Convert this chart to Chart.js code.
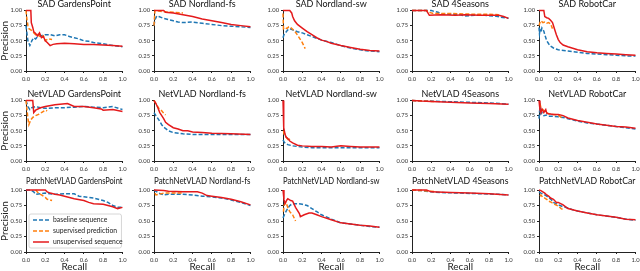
<!DOCTYPE html>
<html><head><meta charset="utf-8">
<script src="https://cdn.jsdelivr.net/npm/chart.js@4.4.1/dist/chart.umd.min.js"></script>
<style>
html,body{margin:0;padding:0;background:#fff;width:640px;height:271px;overflow:hidden;position:relative}
canvas{position:absolute}
</style></head><body>
<script>
// ---------- labels ----------
const methods = ['SAD', 'NetVLAD', 'PatchNetVLAD'];
const places = ['GardensPoint', 'Nordland-fs', 'Nordland-sw', '4Seasons', 'RobotCar'];
const seriesLabels = ['baseline sequence', 'supervised prediction', 'unsupervised sequence'];
const xTicks = [0, 0.2, 0.4, 0.6, 0.8, 1.0];
const yTicks = [0, 0.25, 0.5, 0.75, 1.0];
const xTitle = 'Recall';
const yTitle = 'Precision';

// ---------- data: [recall, precision] ----------
// SAD
const sadGP_base = [[0,0.75],[0.01,0.62],[0.02,0.5],[0.04,0.42],[0.05,0.45],[0.06,0.5],[0.08,0.55],[0.1,0.53],[0.12,0.57],[0.15,0.58],[0.2,0.6],[0.25,0.6],[0.3,0.58],[0.35,0.6],[0.4,0.6],[0.45,0.57],[0.5,0.55],[0.55,0.53],[0.6,0.5],[0.65,0.49],[0.7,0.47],[0.8,0.45],[0.9,0.42],[1.0,0.4]];
const sadGP_sup = [[0,1.0],[0.01,0.85],[0.02,0.75],[0.03,0.7],[0.05,0.68],[0.07,0.65],[0.1,0.6],[0.12,0.62],[0.15,0.55],[0.18,0.58],[0.2,0.5],[0.23,0.53],[0.27,0.52]];
const sadGP_uns = [[0,1],[0.05,1],[0.055,0.8],[0.07,0.72],[0.08,0.65],[0.1,0.62],[0.12,0.58],[0.14,0.63],[0.16,0.55],[0.18,0.57],[0.2,0.5],[0.22,0.47],[0.25,0.42],[0.28,0.44],[0.32,0.45],[0.4,0.46],[0.5,0.45],[0.6,0.44],[0.7,0.44],[0.8,0.43],[0.9,0.42],[1.0,0.41]];

const sadNF_base = [[0,0.75],[0.01,0.85],[0.03,0.91],[0.05,0.9],[0.1,0.87],[0.15,0.85],[0.2,0.83],[0.25,0.81],[0.3,0.8],[0.4,0.81],[0.5,0.79],[0.6,0.77],[0.7,0.75],[0.8,0.74],[0.9,0.73],[1.0,0.72]];
const sadNF_sup = [[0,0.75],[0.01,1.0],[0.05,0.99],[0.1,0.98],[0.2,0.97],[0.3,0.96]];
const sadNF_uns = [[0,1],[0.1,1],[0.12,0.97],[0.2,0.96],[0.3,0.93],[0.4,0.9],[0.5,0.86],[0.6,0.83],[0.7,0.8],[0.8,0.77],[0.9,0.75],[1.0,0.73]];

const sadNS_base = [[0,0.55],[0.01,0.6],[0.03,0.64],[0.05,0.68],[0.07,0.7],[0.1,0.68],[0.15,0.65],[0.2,0.63],[0.25,0.6],[0.3,0.57],[0.35,0.54],[0.4,0.51],[0.5,0.47],[0.6,0.42],[0.7,0.38],[0.8,0.35],[0.9,0.33],[1.0,0.32]];
const sadNS_sup = [[0,0.95],[0.005,0.7],[0.02,0.72],[0.04,0.7],[0.06,0.73],[0.08,0.72],[0.1,0.69],[0.13,0.64],[0.16,0.57],[0.2,0.47],[0.23,0.37]];
const sadNS_uns = [[0,1],[0.07,1],[0.09,0.96],[0.1,0.9],[0.12,0.83],[0.15,0.77],[0.2,0.71],[0.25,0.65],[0.3,0.6],[0.35,0.55],[0.4,0.51],[0.45,0.49],[0.5,0.46],[0.6,0.42],[0.7,0.39],[0.8,0.36],[0.9,0.34],[1.0,0.33]];

const sad4S_base = [[0,1],[0.2,1],[0.22,0.99],[0.27,0.97],[0.3,0.94],[0.4,0.94],[0.5,0.93],[0.55,0.91],[0.65,0.92],[0.75,0.92],[0.85,0.91],[0.92,0.89],[1.0,0.87]];
const sad4S_sup = [[0,1],[0.15,1],[0.18,0.97],[0.22,0.95],[0.4,0.95],[0.6,0.94],[0.8,0.94],[0.9,0.93]];
const sad4S_uns = [[0,1],[0.15,1],[0.18,0.92],[0.3,0.93],[0.45,0.92],[0.55,0.93],[0.7,0.92],[0.85,0.92],[0.9,0.92],[0.95,0.9],[1.0,0.87]];

const sadRC_base = [[0,0.72],[0.005,0.62],[0.01,0.68],[0.02,0.65],[0.03,0.71],[0.04,0.68],[0.05,0.66],[0.06,0.6],[0.08,0.5],[0.1,0.45],[0.12,0.41],[0.15,0.38],[0.2,0.35],[0.3,0.33],[0.4,0.31],[0.5,0.29],[0.6,0.28],[0.7,0.27],[0.8,0.26],[0.9,0.25],[1.0,0.25]];
const sadRC_sup = [[0,0.75],[0.01,0.8],[0.02,0.83],[0.04,0.8],[0.06,0.81],[0.08,0.79],[0.1,0.8],[0.12,0.78],[0.14,0.7]];
const sadRC_uns = [[0,1],[0.05,1],[0.06,0.9],[0.08,0.88],[0.1,0.87],[0.12,0.84],[0.14,0.8],[0.16,0.7],[0.18,0.6],[0.2,0.52],[0.22,0.47],[0.25,0.43],[0.3,0.4],[0.4,0.35],[0.5,0.32],[0.6,0.3],[0.7,0.29],[0.8,0.28],[0.9,0.27],[1.0,0.26]];

// NetVLAD
const nvGP_base = [[0,1],[0.02,0.9],[0.04,0.85],[0.06,0.88],[0.1,0.9],[0.15,0.88],[0.2,0.87],[0.3,0.88],[0.4,0.88],[0.5,0.89],[0.6,0.9],[0.7,0.89],[0.8,0.88],[0.9,0.9],[1.0,0.85]];
const nvGP_sup = [[0,1],[0.02,0.7],[0.03,0.6],[0.05,0.68],[0.07,0.72],[0.1,0.75],[0.13,0.77],[0.16,0.8],[0.2,0.84],[0.22,0.83]];
const nvGP_uns = [[0,1],[0.07,1],[0.08,0.8],[0.1,0.84],[0.15,0.88],[0.2,0.9],[0.3,0.93],[0.43,0.95],[0.5,0.9],[0.6,0.9],[0.7,0.88],[0.78,0.86],[0.8,0.84],[0.9,0.85],[1.0,0.82]];

const nvNF_base = [[0,0.8],[0.02,0.75],[0.05,0.68],[0.08,0.6],[0.1,0.56],[0.15,0.5],[0.2,0.47],[0.3,0.45],[0.4,0.44],[0.6,0.44],[0.8,0.44],[1.0,0.44]];
const nvNF_sup = [[0,1],[0.02,0.95],[0.05,0.87],[0.08,0.83],[0.1,0.79],[0.12,0.76]];
const nvNF_uns = [[0,1],[0.02,0.95],[0.04,0.88],[0.06,0.8],[0.08,0.75],[0.1,0.7],[0.12,0.64],[0.15,0.6],[0.2,0.55],[0.25,0.53],[0.3,0.5],[0.35,0.5],[0.4,0.48],[0.5,0.47],[0.6,0.46],[0.8,0.45],[1.0,0.44]];

const nvNS_base = [[0,0.35],[0.01,0.32],[0.02,0.3],[0.05,0.27],[0.1,0.25],[0.15,0.24],[0.2,0.23],[0.3,0.22],[0.5,0.22],[0.7,0.22],[1.0,0.22]];
const nvNS_sup = [[0.005,0.5],[0.01,0.45],[0.02,0.42],[0.03,0.4],[0.05,0.36],[0.06,0.38],[0.07,0.35]];
const nvNS_uns = [[0,1],[0.005,0.65],[0.01,0.55],[0.02,0.45],[0.03,0.4],[0.05,0.37],[0.07,0.33],[0.1,0.3],[0.15,0.26],[0.2,0.25],[0.3,0.24],[0.4,0.24],[0.5,0.23],[0.6,0.25],[0.7,0.24],[0.8,0.23],[1.0,0.23]];

const nv4S_base = [[0,1],[0.1,0.99],[0.2,0.99],[0.4,0.98],[0.6,0.97],[0.8,0.96],[1.0,0.94]];
const nv4S_sup = [[0,1],[0.1,0.99],[0.2,0.985],[0.25,0.98]];
const nv4S_uns = [[0,1],[0.1,0.99],[0.2,0.985],[0.4,0.97],[0.6,0.96],[0.8,0.95],[1.0,0.94]];

const nvRC_base = [[0,0.7],[0.01,0.9],[0.02,0.78],[0.03,0.8],[0.05,0.75],[0.08,0.76],[0.1,0.74],[0.15,0.74],[0.2,0.73],[0.25,0.72],[0.3,0.7],[0.4,0.66],[0.5,0.63],[0.6,0.61],[0.7,0.59],[0.8,0.57],[0.9,0.55],[1.0,0.53]];
const nvRC_sup = [[0.01,0.95],[0.02,0.88],[0.04,0.85],[0.06,0.82],[0.08,0.8],[0.1,0.78],[0.15,0.77],[0.2,0.76],[0.23,0.72],[0.25,0.7]];
const nvRC_uns = [[0,1],[0.01,0.85],[0.02,0.8],[0.03,0.86],[0.05,0.8],[0.07,0.85],[0.08,0.79],[0.1,0.78],[0.15,0.77],[0.2,0.77],[0.25,0.75],[0.3,0.71],[0.4,0.67],[0.5,0.64],[0.6,0.61],[0.7,0.59],[0.8,0.57],[0.9,0.56],[1.0,0.54]];

// PatchNetVLAD
const pnGP_base = [[0,1],[0.05,1],[0.08,0.97],[0.1,0.93],[0.15,0.94],[0.2,0.95],[0.3,0.93],[0.4,0.94],[0.5,0.94],[0.55,0.9],[0.6,0.89],[0.7,0.87],[0.8,0.83],[0.85,0.8],[0.9,0.75],[0.95,0.72],[1.0,0.72]];
const pnGP_sup = [[0.1,1],[0.13,0.95],[0.16,0.92],[0.2,0.88],[0.22,0.85],[0.25,0.84],[0.27,0.83]];
const pnGP_uns = [[0,1],[0.2,1],[0.22,0.97],[0.25,0.95],[0.3,0.93],[0.35,0.92],[0.4,0.9],[0.5,0.86],[0.6,0.83],[0.65,0.8],[0.7,0.78],[0.8,0.77],[0.85,0.75],[0.9,0.73],[0.95,0.7],[1.0,0.72]];

const pnNF_base = [[0,1],[0.05,0.95],[0.1,0.92],[0.15,0.93],[0.2,0.93],[0.3,0.93],[0.4,0.92],[0.5,0.9],[0.6,0.89],[0.7,0.87],[0.8,0.84],[0.9,0.8],[1.0,0.75]];
const pnNF_sup = [[0.01,0.95],[0.02,0.92],[0.05,0.93],[0.1,0.95],[0.2,0.95],[0.3,0.95]];
const pnNF_uns = [[0,1],[0.1,0.99],[0.15,0.98],[0.3,0.97],[0.45,0.97],[0.5,0.95],[0.55,0.91],[0.6,0.9],[0.7,0.88],[0.8,0.85],[0.9,0.81],[1.0,0.76]];

const pnNS_base = [[0,0.55],[0.02,0.62],[0.04,0.68],[0.07,0.75],[0.1,0.78],[0.15,0.78],[0.2,0.77],[0.25,0.75],[0.3,0.7],[0.35,0.65],[0.4,0.6],[0.5,0.53],[0.6,0.47],[0.7,0.45],[0.8,0.43],[0.9,0.41],[1.0,0.4]];
const pnNS_sup = [[0.005,0.65],[0.01,0.75],[0.03,0.8],[0.05,0.72],[0.07,0.65],[0.1,0.6],[0.13,0.5]];
const pnNS_uns = [[0,1],[0.01,0.85],[0.02,0.78],[0.04,0.84],[0.05,0.86],[0.08,0.83],[0.1,0.82],[0.13,0.72],[0.17,0.62],[0.18,0.57],[0.22,0.6],[0.27,0.63],[0.3,0.63],[0.35,0.6],[0.4,0.57],[0.5,0.52],[0.6,0.47],[0.7,0.45],[0.8,0.43],[0.9,0.42],[1.0,0.4]];

const pn4S_base = [[0,1],[0.1,0.99],[0.2,0.97],[0.3,0.96],[0.5,0.95],[0.7,0.94],[0.9,0.93],[1.0,0.92]];
const pn4S_sup = [[0,1],[0.1,0.99],[0.2,0.98],[0.25,0.97]];
const pn4S_uns = [[0,1],[0.15,1],[0.2,0.97],[0.4,0.96],[0.6,0.95],[0.8,0.94],[1.0,0.92]];

const pnRC_base = [[0,0.97],[0.02,0.95],[0.05,0.93],[0.08,0.9],[0.1,0.88],[0.13,0.84],[0.15,0.8],[0.2,0.76],[0.25,0.73],[0.3,0.71],[0.35,0.68],[0.4,0.66],[0.5,0.63],[0.6,0.6],[0.7,0.58],[0.8,0.56],[0.9,0.53],[1.0,0.51]];
const pnRC_sup = [[0.01,0.9],[0.02,0.92],[0.04,0.88],[0.06,0.87],[0.08,0.85],[0.1,0.82],[0.13,0.8],[0.15,0.78],[0.2,0.74],[0.23,0.7],[0.25,0.68]];
const pnRC_uns = [[0,1],[0.02,0.99],[0.04,0.97],[0.06,0.95],[0.08,0.92],[0.1,0.9],[0.12,0.87],[0.15,0.85],[0.18,0.8],[0.2,0.8],[0.25,0.76],[0.3,0.7],[0.35,0.68],[0.4,0.66],[0.5,0.63],[0.6,0.6],[0.7,0.58],[0.8,0.56],[0.9,0.53],[1.0,0.52]];

const grid = [
  [[sadGP_base,sadGP_sup,sadGP_uns],[sadNF_base,sadNF_sup,sadNF_uns],[sadNS_base,sadNS_sup,sadNS_uns],[sad4S_base,sad4S_sup,sad4S_uns],[sadRC_base,sadRC_sup,sadRC_uns]],
  [[nvGP_base,nvGP_sup,nvGP_uns],[nvNF_base,nvNF_sup,nvNF_uns],[nvNS_base,nvNS_sup,nvNS_uns],[nv4S_base,nv4S_sup,nv4S_uns],[nvRC_base,nvRC_sup,nvRC_uns]],
  [[pnGP_base,pnGP_sup,pnGP_uns],[pnNF_base,pnNF_sup,pnNF_uns],[pnNS_base,pnNS_sup,pnNS_uns],[pn4S_base,pn4S_sup,pn4S_uns],[pnRC_base,pnRC_sup,pnRC_uns]]
];

// ---------- styles / layout ----------
const COLORS = ['#1f77b4', '#ff7f0e', '#e41a1c'];
const DASHES = [[4, 2], [4, 2], []];
const FONT = 'Lato, "DejaVu Sans", sans-serif';
const colLeft = [26, 154, 283, 412, 539];
const rowTop = [10, 100, 190];
const PW = 97, PH = [61, 61, 62];
const L = 26, R = 6;
const titlePadB = [1.5, 1.5, 4];
const TITLE_SIZE = 9;
const B = [14, 14, 20];

const legendPlugin = {
  id: 'boxLegend',
  afterDatasetsDraw(chart, args, opts) {
    if (!opts.show) return;
    const ctx = chart.ctx, a = chart.chartArea;
    const x0 = a.left + 3, y0 = a.top + 24, w = a.right - a.left - 4, h = 34;
    ctx.save();
    ctx.beginPath();
    if (ctx.roundRect) ctx.roundRect(x0, y0, w, h, 2); else ctx.rect(x0, y0, w, h);
    ctx.fillStyle = 'rgba(255,255,255,0.85)';
    ctx.fill();
    ctx.strokeStyle = '#cccccc';
    ctx.lineWidth = 0.8;
    ctx.stroke();
    seriesLabels.forEach((lab, i) => {
      const yy = y0 + 6 + i * 11;
      ctx.beginPath();
      ctx.setLineDash(DASHES[i]);
      ctx.strokeStyle = COLORS[i];
      ctx.lineWidth = 1.5;
      ctx.moveTo(x0 + 4, yy);
      ctx.lineTo(x0 + 20, yy);
      ctx.stroke();
      ctx.setLineDash([]);
      ctx.fillStyle = '#222';
      ctx.font = '6.8px ' + FONT;
      ctx.textBaseline = 'middle';
      ctx.textAlign = 'left';
      ctx.fillText(lab, x0 + 24, yy);
    });
    ctx.restore();
  }
};

for (let r = 0; r < 3; r++) {
  for (let c = 0; c < 5; c++) {
    const T = TITLE_SIZE + titlePadB[r];
    const cv = document.createElement('canvas');
    const W = L + PW + R, H = T + PH[r] + B[r];
    cv.width = W; cv.height = H;
    cv.style.left = (colLeft[c] - L) + 'px';
    cv.style.top = (rowTop[r] - T) + 'px';
    cv.style.width = W + 'px'; cv.style.height = H + 'px';
    document.body.appendChild(cv);
    const sets = grid[r][c];
    new Chart(cv, {
      type: 'line',
      data: {
        datasets: sets.map((d, i) => ({
          label: seriesLabels[i], data: d, borderColor: COLORS[i], borderDash: DASHES[i],
          borderWidth: 1.5, pointRadius: 0, fill: false, tension: 0, order: 3 - i, clip: 4
        }))
      },
      options: {
        responsive: false, animation: false, devicePixelRatio: 1, events: [],
        layout: { padding: { left: 0, right: R, top: 0, bottom: 0 }, autoPadding: false },
        plugins: {
          legend: { display: false }, tooltip: { enabled: false },
          title: {
            display: true, text: methods[r] + ' ' + places[c], fullSize: false, color: '#111',
            font: { family: FONT, size: TITLE_SIZE, lineHeight: 1, weight: 'normal' },
            padding: { top: 0, bottom: titlePadB[r] }
          },
          boxLegend: { show: r === 2 && c === 0 }
        },
        scales: {
          x: {
            type: 'linear', min: 0, max: 1,
            afterFit: s => { s.height = B[r]; },
            afterBuildTicks: s => { s.ticks = xTicks.map(v => ({ value: v })); },
            ticks: { callback: v => Number(v).toFixed(1), font: { family: FONT, size: 5.8 }, color: '#333', padding: 2.5, maxRotation: 0, autoSkip: false },
            grid: { display: true, drawOnChartArea: false, drawTicks: true, tickLength: 2, color: '#222' },
            border: { display: true, color: '#222', width: 1 },
            title: { display: r === 2, text: xTitle, color: '#222', font: { family: FONT, size: 10, lineHeight: 1 }, padding: { top: 0, bottom: 0 } }
          },
          y: {
            type: 'linear', min: 0, max: 1,
            afterFit: s => { s.width = L; },
            afterBuildTicks: s => { s.ticks = yTicks.map(v => ({ value: v })); },
            ticks: { callback: v => Number(v).toFixed(2), font: { family: FONT, size: 5.8 }, color: '#333', padding: 2, autoSkip: false },
            grid: { display: true, drawOnChartArea: false, drawTicks: true, tickLength: 2, color: '#222' },
            border: { display: true, color: '#222', width: 1 },
            title: { display: c === 0, text: yTitle, color: '#222', font: { family: FONT, size: 10, lineHeight: 1 }, padding: { top: 0, bottom: 0 } }
          }
        }
      },
      plugins: [legendPlugin]
    });
  }
}
</script>
</body></html>
